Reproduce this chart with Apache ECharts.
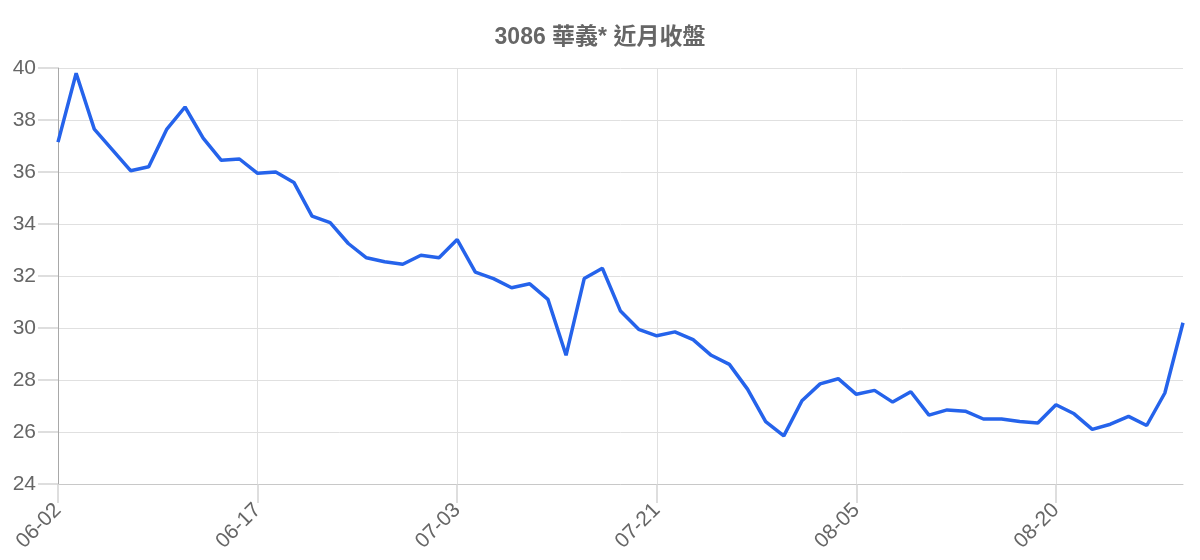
<!DOCTYPE html>
<html>
<head>
<meta charset="utf-8">
<script src="https://cdn.jsdelivr.net/npm/echarts@6/dist/echarts.min.js"></script>
<style>
html,body{margin:0;padding:0;background:#fff;}
#chart{width:1200px;height:560px;}
</style>
</head>
<body>
<div id="chart"></div>
<script>
const titleText = '3086 華義* 近月收盤';
const categories = [
  '06-02','06-03','06-04','06-05','06-06','06-09','06-10','06-11','06-12','06-13','06-16',
  '06-17','06-18','06-19','06-20','06-23','06-24','06-25','06-26','06-27','06-30','07-01',
  '07-03','07-04','07-07','07-08','07-09','07-10','07-14','07-15','07-16','07-17','07-18',
  '07-21','07-22','07-23','07-24','07-25','07-28','07-29','07-30','07-31','08-01','08-04',
  '08-05','08-06','08-07','08-08','08-11','08-12','08-13','08-14','08-15','08-18','08-19',
  '08-20','08-21','08-22','08-25','08-26','08-27','08-28','08-29'
];
const closeValues = [
  37.15,39.8,37.65,36.85,36.05,36.2,37.65,38.5,37.3,36.45,36.5,
  35.95,36.0,35.6,34.3,34.05,33.25,32.7,32.55,32.45,32.8,32.7,
  33.4,32.15,31.9,31.55,31.7,31.1,28.95,31.9,32.3,30.65,29.95,
  29.7,29.85,29.55,28.95,28.6,27.65,26.4,25.85,27.2,27.85,28.05,
  27.45,27.6,27.15,27.55,26.65,26.85,26.8,26.5,26.5,26.4,26.35,
  27.05,26.7,26.1,26.3,26.6,26.25,27.5,30.2
];
const yMin = 24, yMax = 40, yStep = 2;

const chart = echarts.init(document.getElementById('chart'));
const font = '"Liberation Sans", Arial, "Noto Sans CJK TC", sans-serif';
chart.setOption({
  animation: false,
  title: {
    text: titleText,
    left: 'center',
    top: 21,
    textStyle: { fontFamily: '"Liberation Sans", "Noto Sans CJK TC", sans-serif', fontSize: 23, fontWeight: 'bold', color: '#666' }
  },
  grid: { left: 58, right: 17, top: 68, bottom: 76, containLabel: false },
  xAxis: {
    type: 'category',
    data: categories,
    boundaryGap: false,
    axisLine: { show: true, lineStyle: { color: '#c8c8c8', width: 1 } },
    axisTick: { show: true, interval: 10, length: 19, inside: false, lineStyle: { color: '#d4d4d4', width: 1.5 } },
    axisLabel: { interval: 10, rotate: 45, margin: 23, fontSize: 21, color: '#666', fontFamily: font },
    splitLine: { show: true, interval: 10, lineStyle: { color: '#e0e0e0', width: 1 } }
  },
  yAxis: {
    type: 'value',
    min: yMin, max: yMax, interval: yStep,
    axisLine: { show: true, lineStyle: { color: '#a8a8a8', width: 1 } },
    axisTick: { show: true, length: 20, inside: false, lineStyle: { color: '#d4d4d4', width: 1.5 } },
    axisLabel: { margin: 22, fontSize: 21, color: '#666', fontFamily: font },
    splitLine: { show: true, lineStyle: { color: '#e0e0e0', width: 1 } }
  },
  series: [{
    type: 'line',
    data: closeValues,
    showSymbol: false,
    symbol: 'none',
    lineStyle: { color: '#2563eb', width: 3.5 },
    itemStyle: { color: '#2563eb' }
  }]
});
</script>
</body>
</html>
